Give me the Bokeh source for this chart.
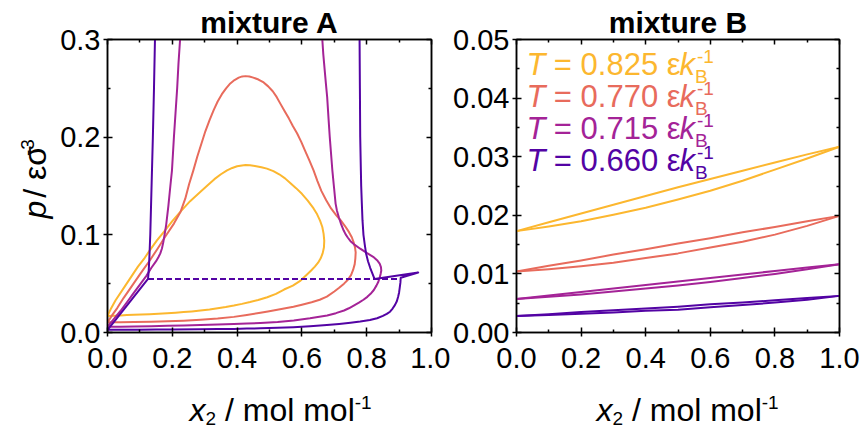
import numpy as np
from bokeh.plotting import figure
from bokeh.models import Range1d, LinearAxis, Label, FixedTicker, CustomJSTickFormatter, PrintfTickFormatter
from bokeh.layouts import row, column
from bokeh.embed import file_html
from bokeh.resources import INLINE

FONT = "Liberation Sans"

# ---------------- data ----------------
temps = ["0.825", "0.770", "0.715", "0.660"]
colors = ["#FCB72F", "#E86B5C", "#A42397", "#5303A4"]
titles = ["mixture A", "mixture B"]

x_ticks = [0.0, 0.2, 0.4, 0.6, 0.8, 1.0]
x_minor = [0.1, 0.3, 0.5, 0.7, 0.9]
yA_ticks = [0.0, 0.1, 0.2, 0.3]
yA_minor = [0.05, 0.15, 0.25]
yB_ticks = [0.0, 0.01, 0.02, 0.03, 0.04, 0.05]
yB_minor = [0.005, 0.015, 0.025, 0.035, 0.045]

# mixture A (phase envelopes, x2 vs p)
a825_x = [0.000, 0.010, 0.025, 0.053, 0.075, 0.094, 0.115, 0.131, 0.152, 0.174, 0.200, 0.226, 0.255, 0.287,
          0.310, 0.330, 0.350, 0.369, 0.385, 0.400, 0.415, 0.426, 0.440, 0.455, 0.475, 0.492, 0.512, 0.530,
          0.548, 0.564, 0.582, 0.600, 0.618, 0.636, 0.647, 0.656, 0.663, 0.667, 0.669, 0.668, 0.664, 0.658,
          0.650, 0.640, 0.630, 0.615, 0.596, 0.572, 0.545, 0.520, 0.493, 0.465, 0.440, 0.415, 0.390, 0.365,
          0.340, 0.315, 0.287, 0.260, 0.235, 0.210, 0.184, 0.157, 0.130, 0.105, 0.081, 0.060, 0.040, 0.020, 0.000]
a825_y = [0.0170, 0.0240, 0.0330, 0.0470, 0.0580, 0.0674, 0.0765, 0.0844, 0.0940, 0.1030, 0.1140, 0.1240,
          0.1345, 0.1440, 0.1510, 0.1570, 0.1620, 0.1660, 0.1685, 0.1702, 0.1711, 0.1714, 0.1712, 0.1705,
          0.1692, 0.1678, 0.1652, 0.1620, 0.1578, 0.1530, 0.1478, 0.1420, 0.1350, 0.1270, 0.1210, 0.1145,
          0.1080, 0.1010, 0.0940, 0.0870, 0.0810, 0.0760, 0.0715, 0.0675, 0.0640, 0.0592, 0.0532, 0.0480,
          0.0440, 0.0395, 0.0361, 0.0333, 0.0312, 0.0293, 0.0276, 0.0261, 0.0248, 0.0236, 0.0225, 0.0216,
          0.0209, 0.0203, 0.0198, 0.0193, 0.0188, 0.0184, 0.0181, 0.0178, 0.0175, 0.0172, 0.0170]

a770_x = [0.000, 0.015, 0.030, 0.050, 0.074, 0.100, 0.131, 0.155, 0.180, 0.205, 0.226, 0.240, 0.252, 0.265,
          0.277, 0.290, 0.302, 0.315, 0.328, 0.340, 0.353, 0.366, 0.379, 0.392, 0.405, 0.416, 0.426, 0.438,
          0.450, 0.466, 0.482, 0.496, 0.510, 0.522, 0.533, 0.546, 0.560, 0.572, 0.585, 0.598, 0.610, 0.623,
          0.636, 0.648, 0.660, 0.675, 0.690, 0.705, 0.720, 0.733, 0.745, 0.754, 0.760, 0.764, 0.766, 0.765,
          0.763, 0.758, 0.752, 0.742, 0.730, 0.715, 0.700, 0.677, 0.655, 0.630, 0.600, 0.574, 0.545, 0.520,
          0.495, 0.472, 0.430, 0.390, 0.340, 0.287, 0.235, 0.185, 0.135, 0.082, 0.040, 0.000]
a770_y = [0.0104, 0.0180, 0.0250, 0.0355, 0.0470, 0.0595, 0.0740, 0.0860, 0.0990, 0.1115, 0.1240, 0.1370,
          0.1520, 0.1660, 0.1800, 0.1935, 0.2060, 0.2175, 0.2280, 0.2365, 0.2440, 0.2500, 0.2550, 0.2585,
          0.2610, 0.2622, 0.2625, 0.2621, 0.2610, 0.2590, 0.2560, 0.2520, 0.2470, 0.2412, 0.2346, 0.2270,
          0.2190, 0.2115, 0.2040, 0.1952, 0.1860, 0.1762, 0.1660, 0.1550, 0.1450, 0.1355, 0.1270, 0.1205,
          0.1147, 0.1090, 0.1030, 0.0975, 0.0920, 0.0870, 0.0820, 0.0760, 0.0700, 0.0640, 0.0590, 0.0540,
          0.0500, 0.0458, 0.0420, 0.0367, 0.0335, 0.0310, 0.0285, 0.0264, 0.0245, 0.0230, 0.0216, 0.0203,
          0.0180, 0.0160, 0.0143, 0.0130, 0.0121, 0.0115, 0.0110, 0.0107, 0.0105, 0.0104]

a715_x = [0.224, 0.219, 0.215, 0.210, 0.205, 0.202, 0.199, 0.194, 0.188, 0.181, 0.176, 0.172, 0.168, 0.163,
          0.157, 0.150, 0.135, 0.120, 0.100, 0.080, 0.060, 0.040, 0.020, 0.000,
          0.040, 0.082, 0.135, 0.185, 0.235, 0.287, 0.340, 0.390, 0.430, 0.472, 0.525, 0.575, 0.625, 0.678,
          0.705, 0.730, 0.745, 0.760, 0.776, 0.790, 0.802, 0.812, 0.822, 0.830, 0.836, 0.840, 0.843, 0.845,
          0.844, 0.840, 0.832, 0.820, 0.800, 0.780, 0.760, 0.750, 0.742, 0.735, 0.729, 0.721, 0.714, 0.708,
          0.704, 0.699, 0.694, 0.690, 0.686, 0.682, 0.678, 0.674, 0.670, 0.666, 0.663]
a715_y = [0.300, 0.275, 0.250, 0.225, 0.200, 0.183, 0.166, 0.150, 0.130, 0.110, 0.100, 0.092, 0.086, 0.081,
          0.077, 0.073, 0.066, 0.058, 0.049, 0.040, 0.031, 0.022, 0.014, 0.0058,
          0.0059, 0.0061, 0.0064, 0.0068, 0.0072, 0.0077, 0.0082, 0.0087, 0.0091, 0.0097, 0.0108, 0.0123,
          0.0145, 0.0174, 0.0198, 0.0225, 0.0248, 0.0276, 0.0305, 0.0335, 0.0365, 0.0396, 0.0435, 0.0480,
          0.0520, 0.0560, 0.0600, 0.0635, 0.0670, 0.0705, 0.0740, 0.0775, 0.0815, 0.0858, 0.0905, 0.0935,
          0.0970, 0.1005, 0.1044, 0.1110, 0.1180, 0.1250, 0.1320, 0.1490, 0.1660, 0.1830, 0.2000, 0.2200,
          0.2410, 0.2550, 0.2700, 0.2850, 0.300]

a660_x = [0.1465, 0.1435, 0.1400, 0.1360, 0.1320, 0.1290, 0.1270, 0.1250, 0.100, 0.075, 0.050, 0.025, 0.000,
          0.050, 0.100, 0.150, 0.200, 0.287, 0.340, 0.390, 0.430, 0.472, 0.525, 0.574, 0.625, 0.677, 0.715,
          0.750, 0.780, 0.810, 0.832, 0.850, 0.862, 0.872, 0.880, 0.887, 0.893, 0.897, 0.900, 0.902, 0.904,
          0.905, 0.959, 0.824, 0.818, 0.811, 0.804, 0.798, 0.794, 0.790, 0.787, 0.785, 0.783, 0.782, 0.780,
          0.779, 0.778]
a660_y = [0.300, 0.250, 0.200, 0.150, 0.100, 0.075, 0.062, 0.0548, 0.0445, 0.0340, 0.0235, 0.0130, 0.0028,
          0.0028, 0.0029, 0.0030, 0.0031, 0.0033, 0.0035, 0.0037, 0.0040, 0.0043, 0.0048, 0.0055, 0.0064,
          0.0077, 0.0088, 0.0100, 0.0112, 0.0128, 0.0146, 0.0170, 0.0190, 0.0213, 0.0245, 0.0280, 0.0320,
          0.0367, 0.0410, 0.0460, 0.0510, 0.0560, 0.0615, 0.0548, 0.0600, 0.0660, 0.0730, 0.0810, 0.0900,
          0.1000, 0.1150, 0.1320, 0.1500, 0.1660, 0.2000, 0.2500, 0.300]

a660_tie_x = [0.125, 0.905]
a660_tie_y = [0.0548, 0.0548]

# mixture B (bubble and dew lines)
b_x = [0.0, 0.1, 0.2, 0.3, 0.4, 0.5, 0.6, 0.7, 0.8, 0.9, 1.0]
b825_bub = [0.0173, 0.0188, 0.0203, 0.0218, 0.0233, 0.0248, 0.0262, 0.0276, 0.0290, 0.0304, 0.0317]
b825_dew = [0.0173, 0.0181, 0.0190, 0.0201, 0.0213, 0.0227, 0.0242, 0.0259, 0.0278, 0.0297, 0.0317]
b770_bub = [0.0104, 0.0114, 0.0123, 0.0133, 0.0142, 0.0152, 0.0161, 0.0171, 0.0180, 0.0190, 0.0199]
b770_dew = [0.0104, 0.0108, 0.0113, 0.0119, 0.0127, 0.0135, 0.0145, 0.0155, 0.0167, 0.0182, 0.0199]
b715_bub = [0.0057, 0.0063, 0.0069, 0.0075, 0.0081, 0.0087, 0.0093, 0.0099, 0.0105, 0.0111, 0.01165]
b715_dew = [0.0057, 0.0061, 0.0065, 0.0070, 0.0075, 0.0080, 0.0086, 0.0093, 0.0100, 0.0108, 0.01165]
b660_bub = [0.0028, 0.0031, 0.0035, 0.0038, 0.0041, 0.0044, 0.0048, 0.0051, 0.0055, 0.0059, 0.00625]
b660_dew = [0.0028, 0.0030, 0.0032, 0.0034, 0.0037, 0.0039, 0.0043, 0.0047, 0.0051, 0.0056, 0.00625]

# ---------------- layout constants (pixels) ----------------
W = 863
MT, FH, MB = 39, 293, 48   # main figures: top border (title), frame height, bottom border
MAINH = MT + FH + MB       # 380
BOTH = 430 - MAINH         # bottom strip height (50)
LSW = 56                   # left strip width (y label)
P1W, P1L, P1R = 394, 51, 19
P2W, P2L, P2R = 413, 64, 24
FB = MT + FH               # absolute frame bottom (332)
P1X0 = LSW + P1L           # absolute frame left p1 (107)
P2X0 = LSW + P1W + P2L     # 514
P2FW = P2W - P2L - P2R     # 325
BSH = 0.28                 # empirical baseline correction (fraction of font size)

WID = {'0': .556, '1': .556, '2': .556, '3': .556, '4': .556, '5': .556, '6': .556, '7': .556, '8': .556,
       '9': .556, '.': .278, ' ': .278, '=': .584, '/': .278, 'm': .833, 'o': .556, 'l': .222, 'T': .611,
       'k': .5, 'x': .5, 'p': .556, 'ε': .44, 'σ': .57, '-': .333, 'B': .667}


def tw(s, size):
    return sum(WID.get(c, .556) for c in s) * size


def strip(w, h):
    s = figure(width=w, height=h, x_range=Range1d(0, w), y_range=Range1d(0, h),
               x_axis_type=None, y_axis_type=None, output_backend="svg", toolbar_location=None,
               min_border=0, min_border_left=0, min_border_right=0, min_border_top=0, min_border_bottom=0)
    s.outline_line_color = None
    s.xgrid.visible = False
    s.ygrid.visible = False
    s.background_fill_color = "white"
    s.border_fill_color = "white"
    return s


def make_fig(width, mbl, mbr, ymax, yt_major, yt_minor, yfmt, title, toff):
    p = figure(width=width, height=MAINH, x_range=Range1d(0, 1), y_range=Range1d(0, ymax),
               output_backend="svg", toolbar_location=None, title=title,
               min_border_left=mbl, min_border_right=mbr, min_border_top=MT, min_border_bottom=MB)
    p.title.text_font = FONT
    p.title.text_font_size = "30px"
    p.title.text_font_style = "bold"
    p.title.text_color = "black"
    p.title.align = "center"
    p.title.standoff = 2
    p.title.offset = toff
    p.xgrid.visible = False
    p.ygrid.visible = False
    p.outline_line_color = "black"
    p.outline_line_width = 1.5
    p.background_fill_color = "white"
    p.border_fill_color = "white"
    xt = FixedTicker(ticks=x_ticks, minor_ticks=x_minor)
    yt = FixedTicker(ticks=yt_major, minor_ticks=yt_minor)
    p.xaxis.ticker = xt
    p.yaxis.ticker = yt
    p.xaxis.formatter = PrintfTickFormatter(format="%.1f")
    p.yaxis.formatter = PrintfTickFormatter(format=yfmt)
    for ax in (p.xaxis[0], p.yaxis[0]):
        ax.axis_line_color = "black"
        ax.axis_line_width = 1.5
        ax.major_tick_line_color = "black"
        ax.major_tick_line_width = 1.5
        ax.minor_tick_line_color = "black"
        ax.minor_tick_line_width = 1.5
        ax.major_tick_in = 5
        ax.major_tick_out = 4
        ax.minor_tick_in = 3
        ax.minor_tick_out = 0
        ax.major_label_text_font = FONT
        ax.major_label_text_font_size = "29px"
        ax.major_label_text_color = "black"
    p.xaxis.major_label_standoff = 11
    p.yaxis.major_label_standoff = 3
    for loc, tk in (("above", xt), ("right", yt)):
        ax = LinearAxis(ticker=tk, formatter=CustomJSTickFormatter(code="return ''"),
                        major_label_text_font_size="0px", major_label_standoff=0,
                        axis_line_color="black", axis_line_width=1.5,
                        major_tick_line_color="black", major_tick_line_width=1.5,
                        minor_tick_line_color="black", minor_tick_line_width=1.5,
                        major_tick_in=5, major_tick_out=0, minor_tick_in=3, minor_tick_out=0)
        p.add_layout(ax, loc)
    return p


p1 = make_fig(P1W, P1L, P1R, 0.3, yA_ticks, yA_minor, "%.1f", titles[0], -6)
p2 = make_fig(P2W, P2L, P2R, 0.05, yB_ticks, yB_minor, "%.2f", titles[1], 6)
bottom = strip(W, BOTH)
left = strip(LSW, MAINH)


def X2(px):
    return (px - P2X0) / P2FW


def Y2(py):
    return (FB - py) * 0.05 / FH


def lab(p, x, y, text, size, color="black", style="normal", angle=0.0, align="left"):
    p.add_layout(Label(x=x, y=y, text=text, text_font=FONT, text_font_size=f"{size}px",
                       text_font_style=style, text_color=color, angle=angle,
                       text_align=align, text_baseline="alphabetic"))


# ---------------- mixture A ----------------
LW = 2
for xs, ys, c in ((a825_x, a825_y, colors[0]), (a770_x, a770_y, colors[1]),
                  (a715_x, a715_y, colors[2]), (a660_x, a660_y, colors[3])):
    p1.line(xs, ys, line_color=c, line_width=LW, line_join="round")
p1.line(a660_tie_x, a660_tie_y, line_color=colors[3], line_width=LW, line_dash="6 3")

# ---------------- mixture B ----------------
for bub, dew, c in ((b825_bub, b825_dew, colors[0]), (b770_bub, b770_dew, colors[1]),
                    (b715_bub, b715_dew, colors[2]), (b660_bub, b660_dew, colors[3])):
    p2.line(b_x, bub, line_color=c, line_width=LW, line_join="round")
    p2.line(b_x, dew, line_color=c, line_width=LW, line_join="round")

# ---------------- x axis labels (bottom strip) ----------------
AX = 32
SUB = 19
SP = tw(" ", AX)
for x0 in (P1X0 + 82, P2X0 + 82):
    lab(bottom, x0, 430 - 418 + BSH * AX, "x", AX, style="italic")
    xs = x0 + tw("x", AX)
    lab(bottom, xs, 430 - 423 + BSH * SUB, "2", SUB)
    xr = xs + tw("2", SUB) + SP
    lab(bottom, xr, 430 - 418 + BSH * AX, "/ mol mol", AX)
    xsup = xr + tw("/ mol mol", AX)
    lab(bottom, xsup, 430 - 407 + BSH * SUB, "-1", SUB)

# ---------------- y axis label (left strip, rotated) ----------------
bx = 43                    # wanted baseline (absolute px)
ybot = MAINH               # absolute pixel of strip bottom (380)
py0 = 232
ang = np.pi / 2
lab(left, bx - BSH * AX, ybot - py0, "p", AX, style="italic", angle=ang)
py1 = py0 - tw("p", AX) - SP
lab(left, bx - BSH * AX, ybot - py1, "/ εσ", AX, angle=ang)
py2 = py1 - tw("/ εσ", AX) - 4
lab(left, bx - 11 - BSH * SUB, ybot - py2, "-3", SUB, angle=ang)

# ---------------- legend text (inside mixture B frame) ----------------
LG = 31
for i, (t, c) in enumerate(zip(temps, colors)):
    base = 72.5 + 32 * i
    x0 = 524
    lab(p2, X2(x0), Y2(base - BSH * LG), "T", LG, color=c, style="italic")
    x1 = x0 + tw("T", LG) + tw(" ", LG)
    s = "= " + t + " ε"
    lab(p2, X2(x1), Y2(base - BSH * LG), s, LG, color=c)
    x2 = x1 + tw(s, LG)
    lab(p2, X2(x2), Y2(base - BSH * LG), "k", LG, color=c, style="italic")
    x3 = x2 + tw("k", LG)
    lab(p2, X2(x3), Y2(base + 9 - BSH * SUB), "B", SUB, color=c)
    lab(p2, X2(x3 + 2), Y2(base - 11 - BSH * SUB), "-1", SUB, color=c)

layout = column(row(left, p1, p2), bottom)
open("out.html", "w").write(file_html(layout, INLINE))
